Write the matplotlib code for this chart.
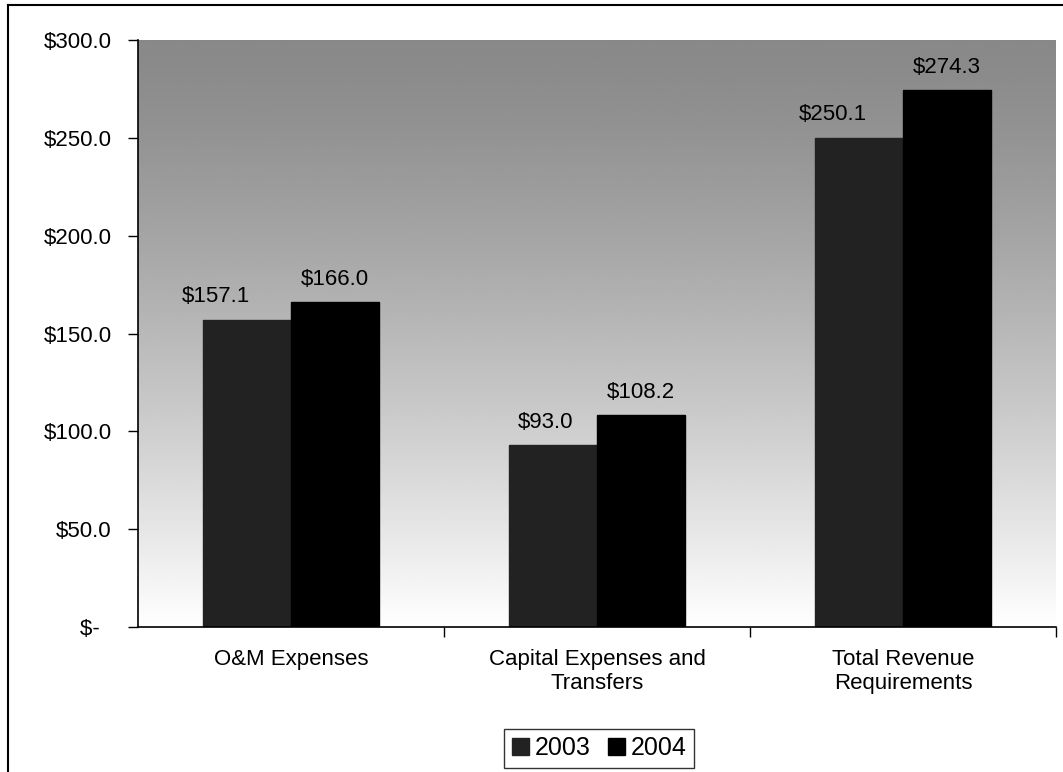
import numpy as np
import matplotlib.pyplot as plt
from matplotlib.lines import Line2D

# values in $ millions
categories = ["O&M Expenses", "Capital Expenses and\nTransfers", "Total Revenue\nRequirements"]
years = ["2003", "2004"]
vals_2003 = [157.1, 93.0, 250.1]
vals_2004 = [166.0, 108.2, 274.3]
yticks = [0, 50, 100, 150, 200, 250, 300]
ytick_labels = ["$-  ", "$50.0", "$100.0", "$150.0", "$200.0", "$250.0", "$300.0"]

# the 2003 labels sit a little left of their bars in the original (points)
nudge_2003 = [-22, -5, -19]
nudge_2004 = [0, 0, 0]

plt.rcParams["font.family"] = ["Liberation Sans", "DejaVu Sans"]

fig = plt.figure(figsize=(10.63, 7.72), dpi=100)
ax = fig.add_axes([138 / 1063, 1 - 627 / 772, 918 / 1063, 587 / 772])

# gray gradient background, dark at top and fading to white at the bottom
grad = np.linspace(0, 1, 256).reshape(-1, 1) ** 1.3
ax.imshow(grad, cmap="gray", vmin=-1.15, vmax=1.0, aspect="auto",
          extent=[-0.5, 2.5, 0, 300], origin="upper", zorder=0)

x = np.arange(len(categories))
w = 0.288
b1 = ax.bar(x - w / 2, vals_2003, w, color="#222222", edgecolor="#222222", zorder=2, label=years[0])
b2 = ax.bar(x + w / 2, vals_2004, w, color="black", edgecolor="black", zorder=2, label=years[1])

for bars, vals, nudge in [(b1, vals_2003, nudge_2003), (b2, vals_2004, nudge_2004)]:
    for r, v, dx in zip(bars, vals, nudge):
        ax.annotate(f"${v:.1f}", (r.get_x() + r.get_width() / 2, v),
                    xytext=(dx, 9), textcoords="offset points",
                    ha="center", va="bottom", fontsize=16, color="black", zorder=3)

ax.set_xlim(-0.5, 2.5)
ax.set_ylim(0, 300)
ax.set_yticks(yticks)
ax.set_yticklabels(ytick_labels, fontsize=16)
ax.set_xticks([0.5, 1.5, 2.5])
ax.set_xticklabels([])
ax.set_xticks(x, minor=True)
ax.set_xticklabels(categories, minor=True, fontsize=16)
ax.tick_params(axis="x", which="minor", length=0, pad=16)
ax.tick_params(axis="x", which="major", length=7, width=1)
ax.tick_params(axis="y", length=7, width=1, pad=12)
ax.spines["top"].set_visible(False)
ax.spines["right"].set_visible(False)
for s in ["left", "bottom"]:
    ax.spines[s].set_linewidth(1.2)

leg = fig.legend(handles=[b1, b2], labels=years, loc="center", bbox_to_anchor=(599 / 1063, 1 - 748 / 772),
                 ncol=2, fontsize=18, frameon=True, fancybox=False, edgecolor="black",
                 handlelength=0.7, handleheight=0.7, handletextpad=0.2, columnspacing=0.7,
                 borderpad=0.3)
leg.get_frame().set_linewidth(1.0)

# outer border of the chart
fig.add_artist(Line2D([8 / 1063, 8 / 1063], [0, 1 - 5 / 772], color="black", lw=1.5))
fig.add_artist(Line2D([8 / 1063, 1], [1 - 5 / 772, 1 - 5 / 772], color="black", lw=1.5))

plt.savefig("out.png", dpi=100)
